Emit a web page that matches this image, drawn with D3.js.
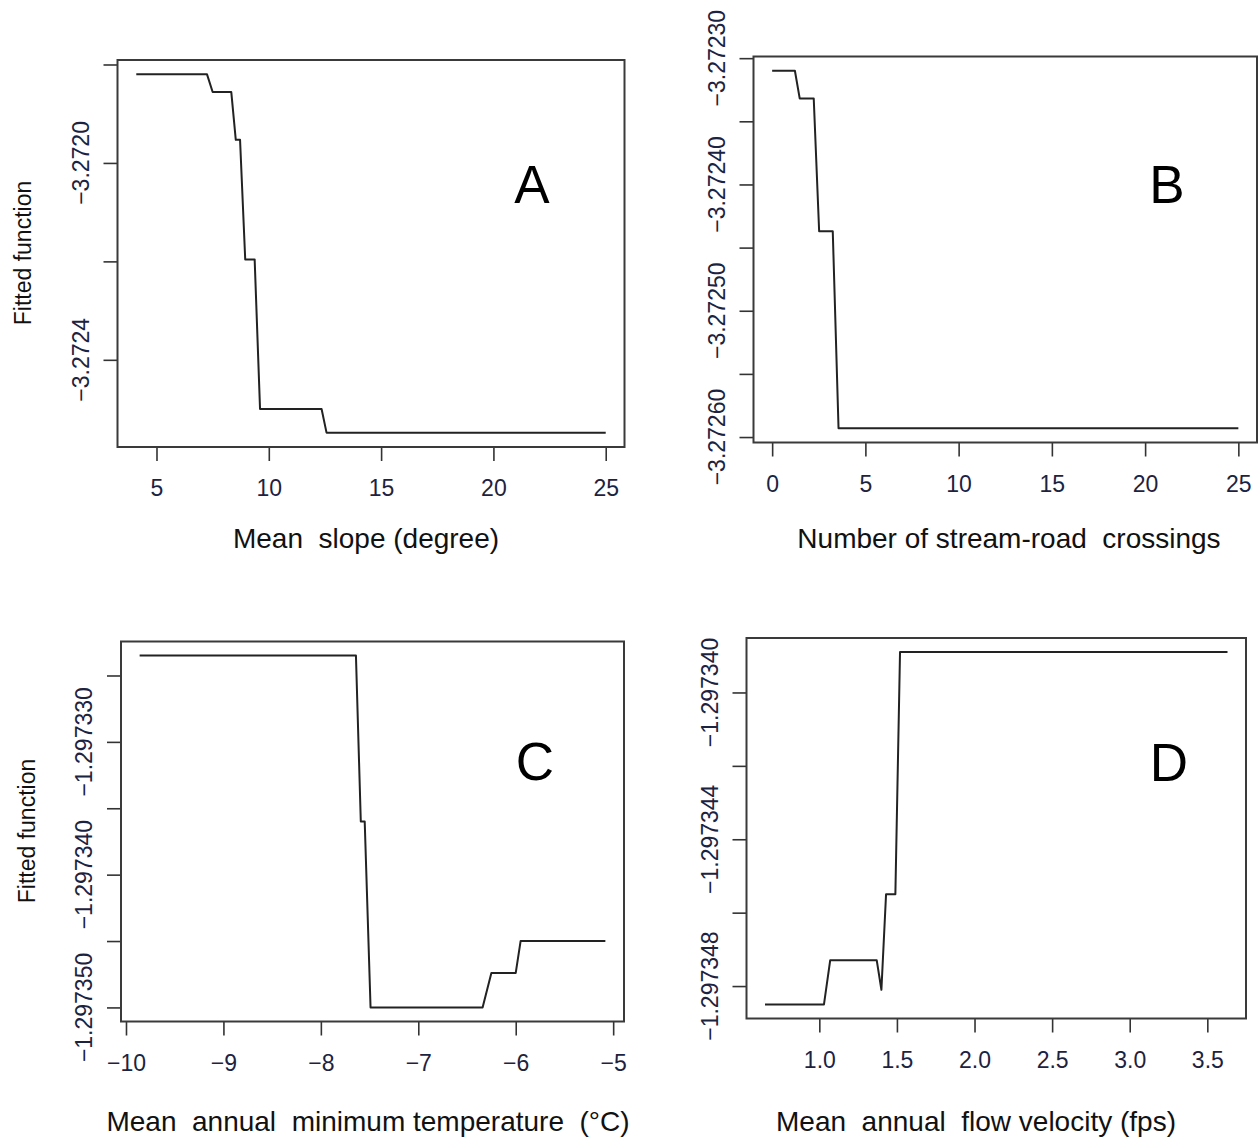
<!DOCTYPE html>
<html>
<head>
<meta charset="utf-8">
<script src="https://cdn.jsdelivr.net/npm/d3@7"></script>
<style>
body{margin:0;background:#fff;}
svg text{font-family:"Liberation Sans",Arial,sans-serif;}
</style>
</head>
<body>
<div id="canvas"></div>
<script>
// step curves
var slopeX = [4.1, 7.25, 7.5, 8.33, 8.53, 8.72, 8.95, 9.37, 9.61, 12.35, 12.57, 25];
var slopeY = [-3.27182, -3.27182, -3.271856, -3.271856, -3.271953, -3.271953,
              -3.272196, -3.272196, -3.2725, -3.2725, -3.272548, -3.272548];

var crossX = [0, 1.22, 1.48, 2.23, 2.52, 3.25, 3.56, 25];
var crossY = [-3.27231, -3.27231, -3.272332, -3.272332, -3.272437, -3.272437, -3.272593, -3.272593];

var tempX = [-9.86, -7.64, -7.59, -7.55, -7.49, -6.34, -6.25, -6.0, -5.95, -5.08];
var tempY = [-1.2973235, -1.2973235, -1.297336, -1.297336, -1.29735, -1.29735,
             -1.2973474, -1.2973474, -1.297345, -1.297345];

var velX = [0.65, 1.03, 1.07, 1.37, 1.40, 1.43, 1.49, 1.52, 3.63];
var velY = [-1.2973485, -1.2973485, -1.2973473, -1.2973473, -1.2973481,
            -1.2973455, -1.2973455, -1.2973389, -1.2973389];

// ticks (R shows only every other y label)
var slopeXTicks = [5, 10, 15, 20, 25];
var slopeYTicks = [-3.2718, -3.2720, -3.2722, -3.2724];
var slopeYLabels = [-3.2720, -3.2724];

var crossXTicks = [0, 5, 10, 15, 20, 25];
var crossYTicks = [-3.27230, -3.27235, -3.27240, -3.27245, -3.27250, -3.27255, -3.27260];
var crossYLabels = [-3.27230, -3.27240, -3.27250, -3.27260];

var tempXTicks = [-10, -9, -8, -7, -6, -5];
var tempYTicks = [-1.297325, -1.297330, -1.297335, -1.297340, -1.297345, -1.297350];
var tempYLabels = [-1.297330, -1.297340, -1.297350];

var velXTicks = [1.0, 1.5, 2.0, 2.5, 3.0, 3.5];
var velYTicks = [-1.297340, -1.297342, -1.297344, -1.297346, -1.297348];
var velYLabels = [-1.297340, -1.297344, -1.297348];

var panels = [
    {x:slopeX, y:slopeY, xt:slopeXTicks, yt:slopeYTicks, yl:slopeYLabels, xf:'d', yf:'.4f',
     box:{l:117.5, r:624.5, t:60, b:447}, letter:'A', lp:[532,203],
     title:'Mean  slope (degree)', tp:[366,548], yTitle:[31,253]},
    {x:crossX, y:crossY, xt:crossXTicks, yt:crossYTicks, yl:crossYLabels, xf:'d', yf:'.5f',
     box:{l:753.5, r:1257, t:56.5, b:442.5}, letter:'B', lp:[1167,203],
     title:'Number of stream-road  crossings', tp:[1009,548], yTitle:null},
    {x:tempX, y:tempY, xt:tempXTicks, yt:tempYTicks, yl:tempYLabels, xf:'d', yf:'.6f',
     box:{l:121, r:624, t:641.5, b:1021.5}, letter:'C', lp:[535,780],
     title:'Mean  annual  minimum temperature  (\u00b0C)', tp:[368,1131], yTitle:[35,831]},
    {x:velX, y:velY, xt:velXTicks, yt:velYTicks, yl:velYLabels, xf:'.1f', yf:'.6f',
     box:{l:746.5, r:1246, t:638, b:1018.5}, letter:'D', lp:[1169,781],
     title:'Mean  annual  flow velocity (fps)', tp:[976,1131], yTitle:null}
];

var W = 1258, H = 1139;
var svg = d3.select('#canvas')
    .append('svg')
    .attr('width', W)
    .attr('height', H)
    .style('display', 'block');

svg.append('rect').attr('width', W).attr('height', H).attr('fill', '#fff');

// R-style 4% padding on each side of the data range
function pad(ext){
    var d = (ext[1] - ext[0]) * 0.04;
    return [ext[0] - d, ext[1] + d];
}

panels.forEach(function(p){
    var b = p.box;
    var sx = d3.scaleLinear().domain(pad(d3.extent(p.x))).range([b.l, b.r]);
    var sy = d3.scaleLinear().domain(pad(d3.extent(p.y))).range([b.b, b.t]);
    var pts = p.x.map(function(v, i){ return [v, p.y[i]]; });

    var g = svg.append('g');

    // x axis
    var ax = g.append('g')
        .attr('transform', 'translate(0,' + b.b + ')')
        .call(d3.axisBottom(sx).tickValues(p.xt).tickSize(14).tickPadding(19)
            .tickFormat(d3.format(p.xf)));
    ax.select('.domain').remove();
    ax.selectAll('line').attr('stroke', '#333').attr('stroke-width', 1.6);
    ax.selectAll('text').attr('font-size', 23).attr('fill', '#1c2340')
        .style('font-family', '"Liberation Sans",Arial,sans-serif');

    // y axis, labels drawn rotated like R
    var ay = g.append('g')
        .attr('transform', 'translate(' + b.l + ',0)')
        .call(d3.axisLeft(sy).tickValues(p.yt).tickSize(14).tickFormat(''));
    ay.select('.domain').remove();
    ay.selectAll('line').attr('stroke', '#333').attr('stroke-width', 1.6);

    var fy = d3.format(p.yf);
    g.selectAll('.ylab')
        .data(p.yl)
        .enter()
        .append('text')
        .attr('class', 'ylab')
        .attr('transform', function(d){ return 'translate(' + (b.l - 29) + ',' + sy(d) + ') rotate(-90)'; })
        .attr('text-anchor', 'middle')
        .attr('font-size', 23)
        .attr('fill', '#1c2340')
        .text(function(d){ return fy(d); });

    // frame
    g.append('rect')
        .attr('x', b.l).attr('y', b.t)
        .attr('width', b.r - b.l).attr('height', b.b - b.t)
        .attr('fill', 'none')
        .attr('stroke', '#3a3a3a')
        .attr('stroke-width', 2);

    // fitted step line
    g.append('path')
        .datum(pts)
        .attr('fill', 'none')
        .attr('stroke', '#222')
        .attr('stroke-width', 2)
        .attr('stroke-linejoin', 'round')
        .attr('d', d3.line()
            .x(function(d){ return sx(d[0]); })
            .y(function(d){ return sy(d[1]); }));

    // panel letter
    g.append('text')
        .attr('x', p.lp[0]).attr('y', p.lp[1])
        .attr('text-anchor', 'middle')
        .attr('font-size', 53)
        .attr('fill', '#000')
        .text(p.letter);

    // axis titles
    g.append('text')
        .attr('x', p.tp[0]).attr('y', p.tp[1])
        .attr('text-anchor', 'middle')
        .attr('font-size', 28)
        .attr('fill', '#111')
        .style('white-space', 'pre')
        .text(p.title);

    if (p.yTitle){
        g.append('text')
            .attr('transform', 'translate(' + p.yTitle[0] + ',' + p.yTitle[1] + ') rotate(-90)')
            .attr('text-anchor', 'middle')
            .attr('font-size', 23)
            .attr('fill', '#111')
            .text('Fitted function');
    }
});
</script>
</body>
</html>
